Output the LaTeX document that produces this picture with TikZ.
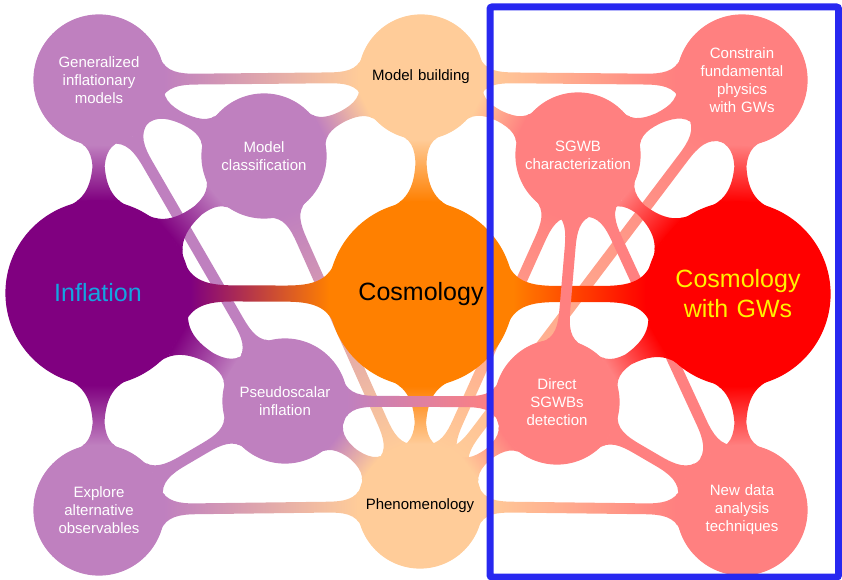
\documentclass[tikz,border=0pt]{standalone}
\usepackage{fontspec}
\setsansfont{Liberation Sans}
\usetikzlibrary{mindmap, backgrounds}
\colorlet{inflC}{violet}
\colorlet{inflL}{violet!50}
\colorlet{cosC}{orange}
\colorlet{cosL}{orange!40}
\colorlet{gwC}{red}
\colorlet{gwL}{red!50}
\definecolor{inflText}{RGB}{20,165,225}
\definecolor{frameBlue}{RGB}{40,40,240}

\begin{document}
\begin{tikzpicture}[x=1pt, y=1pt, mindmap,
  every node/.style={concept, align=center, inner sep=0pt, font=\sffamily},
  big/.style={minimum size=184pt, text width=170pt, font=\sffamily\fontsize{25}{30}\selectfont},
  small/.style={minimum size=124pt, text width=112pt, font=\sffamily\fontsize{15}{18}\selectfont},
  corner/.style={small, minimum size=130pt},
  cbar/.style args={#1 to #2}{circle connection bar switch color=from (#1) to (#2)}]
\useasboundingbox (0,0) rectangle (842,579);
% main concepts
\node[big, concept color=inflC, text=inflText] (infl) at (98,286) {Inflation};
\node[big, concept color=cosC, text=black] (cosmo) at (421,285) {Cosmology};
\node[big, concept color=gwC, text=yellow] (cgw) at (738,285) {Cosmology\\with GWs};
% inflation side
\node[corner, concept color=inflL, text=white] (gen) at (99,499) {Generalized\\inflationary\\models};
\node[small, concept color=inflL, text=white] (mclass) at (264,423) {Model\\classification};
\node[small, concept color=inflL, text=white] (pseudo) at (285,178) {Pseudoscalar\\inflation};
\node[corner, concept color=inflL, text=white] (explore) at (99,69) {Explore\\alternative\\observables};
% cosmology side
\node[small, concept color=cosL, text=black] (mbuild) at (421,502) {Model building};
\node[small, concept color=cosL, text=black] (pheno) at (420,73) {Phenomenology};
% GW side
\node[small, concept color=gwL, text=white] (sgwb) at (578,424) {SGWB\\characterization};
\node[corner, concept color=gwL, text=white] (constrain) at (742,499) {Constrain\\fundamental\\physics\\with GWs};
\node[small, concept color=gwL, text=white] (direct) at (557,177) {Direct\\SGWBs\\detection};
\node[corner, concept color=gwL, text=white] (newdata) at (742,69) {New data\\analysis\\techniques};

\begin{pgfonlayer}{background}
% long links first
\path (gen) to[cbar=inflL to inflL] (pseudo);
\path (mclass) to[cbar=inflL to cosL] (pheno);
\path (pheno) to[cbar=cosL to gwL] (sgwb);
\path (pheno) to[cbar=cosL to gwL] (constrain);
\path (sgwb) to[cbar=gwL to gwL] (newdata);
% main bars
\path (infl) to[cbar=inflC to cosC] (cosmo);
\path (cosmo) to[cbar=cosC to gwC] (cgw);
\path (infl) to[cbar=inflC to inflL] (gen);
\path (infl) to[cbar=inflC to inflL] (mclass);
\path (infl) to[cbar=inflC to inflL] (pseudo);
\path (infl) to[cbar=inflC to inflL] (explore);
\path (cosmo) to[cbar=cosC to cosL] (mbuild);
\path (cosmo) to[cbar=cosC to cosL] (pheno);
\path (cgw) to[cbar=gwC to gwL] (constrain);
\path (cgw) to[cbar=gwC to gwL] (sgwb);
\path (cgw) to[cbar=gwC to gwL] (direct);
\path (cgw) to[cbar=gwC to gwL] (newdata);
% cross links
\path (gen) to[cbar=inflL to inflL] (mclass);
\path (pseudo) to[cbar=inflL to inflL] (explore);
\path (gen) to[cbar=inflL to cosL] (mbuild);
\path (mclass) to[cbar=inflL to cosL] (mbuild);
\path (pseudo) to[cbar=inflL to cosL] (pheno);
\path (explore) to[cbar=inflL to cosL] (pheno);
\path (mbuild) to[cbar=cosL to gwL] (sgwb);
\path (mbuild) to[cbar=cosL to gwL] (constrain);
\path (pheno) to[cbar=cosL to gwL] (direct);
\path (pheno) to[cbar=cosL to gwL] (newdata);
\path (sgwb) to[cbar=gwL to gwL] (constrain);
\path (sgwb) to[cbar=gwL to gwL] (direct);
\path (direct) to[cbar=gwL to gwL] (newdata);
\path (pseudo) to[cbar=inflL to gwL] (direct);
\end{pgfonlayer}

\draw[frameBlue, line width=7pt, rounded corners=2pt] (490,2) rectangle (838.5,572);
\end{tikzpicture}
\end{document}
